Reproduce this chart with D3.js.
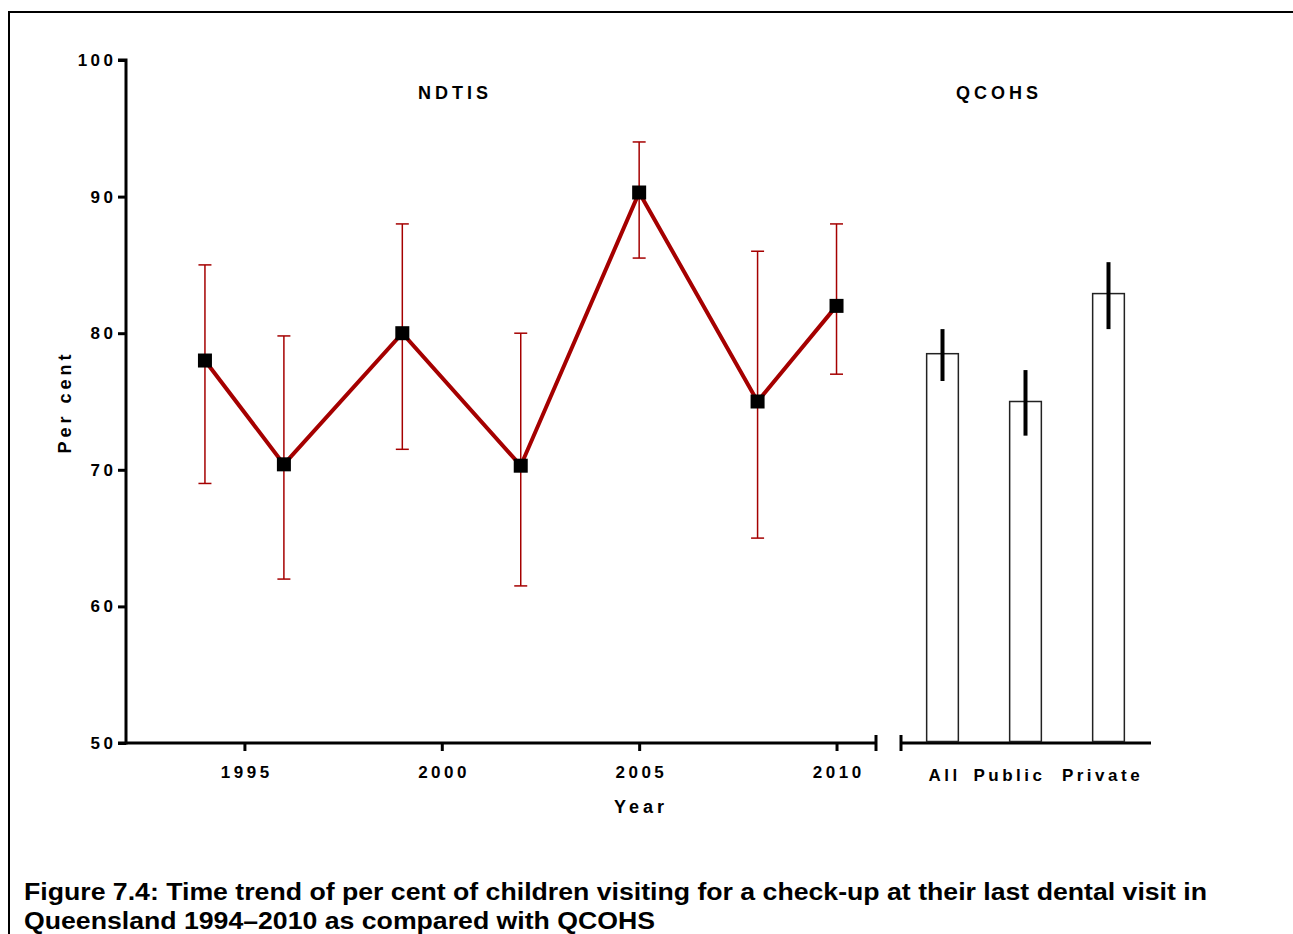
<!DOCTYPE html>
<html>
<head>
<meta charset="utf-8">
<script src="https://cdn.jsdelivr.net/npm/d3@7"></script>
<style>
html,body{margin:0;padding:0;background:#fff;}
svg{display:block;}
text{font-family:"Liberation Sans",Arial,sans-serif;font-weight:bold;fill:#000;}
</style>
</head>
<body>
<svg id="chart" width="1293" height="934"></svg>
<script>
// ---- data ----
const years = [1994, 1996, 1999, 2002, 2005, 2008, 2010];
const ndtisValues = [78, 70.4, 80, 70.3, 90.3, 75, 82];
const ndtisLower = [69, 62, 71.5, 61.5, 85.5, 65, 77];
const ndtisUpper = [85, 79.8, 88, 80, 94, 86, 88];
const yearTicks = [1995, 2000, 2005, 2010];
const yTicks = [50, 60, 70, 80, 90, 100];
const qcohsCategories = ["All", "Public", "Private"];
const qcohsValues = [78.5, 75.0, 82.9];
const qcohsLower = [76.5, 72.5, 80.3];
const qcohsUpper = [80.3, 77.3, 85.2];

const svg = d3.select("#chart");
const red = "#a50000";
const FONT = "Liberation Sans, Arial, sans-serif";

// frame
svg.append("path").attr("d", "M9,934 L9,12 L1293,12")
  .attr("fill", "none").attr("stroke", "#000").attr("stroke-width", 2);

// scales
const y = d3.scaleLinear().domain([50, 100]).range([743, 60]);
const x = d3.scaleLinear().domain([1992, 2011]).range([126, 876]);
const xb = d3.scaleBand().domain(qcohsCategories).range([901, 1150])
  .paddingInner(0.6).paddingOuter(0.3);

// y axis
const yAxis = svg.append("g").attr("transform", "translate(126,0)")
  .call(d3.axisLeft(y).tickValues(yTicks).tickSize(8).tickPadding(5));
yAxis.select(".domain").attr("stroke-width", 3).attr("d", "M-8,60H0V743H-8");
yAxis.selectAll(".tick line").attr("stroke-width", 3);
yAxis.selectAll(".tick text").attr("font-size", 17).attr("font-family", FONT)
  .attr("font-weight", "bold").attr("letter-spacing", 3.5).attr("dx", 3.5);

// x axis (year)
const xAxis = svg.append("g").attr("transform", "translate(0,743)")
  .call(d3.axisBottom(x).tickValues(yearTicks).tickFormat(d3.format("d")).tickSize(8).tickPadding(15));
xAxis.select(".domain").attr("stroke-width", 3).attr("d", "M126,0H876");
xAxis.selectAll(".tick text").attr("font-size", 17).attr("font-family", FONT)
  .attr("font-weight", "bold").attr("letter-spacing", 3.5).attr("dx", 1.75);
xAxis.selectAll(".tick line").attr("stroke-width", 3);
xAxis.append("line").attr("x1", 876).attr("x2", 876).attr("y1", -8).attr("y2", 8)
  .attr("stroke", "#000").attr("stroke-width", 3);

// category axis
const bAxis = svg.append("g").attr("transform", "translate(0,743)")
  .call(d3.axisBottom(xb).tickSize(0).tickPadding(26));
bAxis.select(".domain").attr("stroke-width", 3).attr("d", "M901,0H1151");
bAxis.selectAll(".tick text").attr("font-size", 17).attr("font-family", FONT)
  .attr("font-weight", "bold").attr("letter-spacing", 3.5)
  .attr("dx", (d, i) => [2, -16, -6][i]);
bAxis.append("line").attr("x1", 901).attr("x2", 901).attr("y1", -8).attr("y2", 8)
  .attr("stroke", "#000").attr("stroke-width", 3);

// titles
svg.append("text").attr("x", 455).attr("y", 99).attr("text-anchor", "middle")
  .attr("font-size", 18).attr("letter-spacing", 4).text("NDTIS");
svg.append("text").attr("x", 999).attr("y", 99).attr("text-anchor", "middle")
  .attr("font-size", 18).attr("letter-spacing", 4).text("QCOHS");
svg.append("text").attr("x", 641).attr("y", 813).attr("text-anchor", "middle")
  .attr("font-size", 18).attr("letter-spacing", 4).text("Year");
svg.append("text").attr("transform", "translate(71,402) rotate(-90)").attr("text-anchor", "middle")
  .attr("font-size", 18).attr("letter-spacing", 4).text("Per cent");

// error bars NDTIS
const eg = svg.append("g");
years.forEach((yr, i) => {
  const cx = x(yr);
  eg.append("line").attr("x1", cx).attr("x2", cx).attr("y1", y(ndtisUpper[i])).attr("y2", y(ndtisLower[i]))
    .attr("stroke", red).attr("stroke-width", 1.5);
  [ndtisUpper[i], ndtisLower[i]].forEach(v => {
    eg.append("line").attr("x1", cx - 6.5).attr("x2", cx + 6.5).attr("y1", y(v)).attr("y2", y(v))
      .attr("stroke", red).attr("stroke-width", 1.5);
  });
});

// line
const line = d3.line().x((d, i) => x(years[i])).y(d => y(d));
svg.append("path").datum(ndtisValues).attr("d", line)
  .attr("fill", "none").attr("stroke", red).attr("stroke-width", 4).attr("stroke-linejoin", "miter");

// markers
svg.append("g").selectAll("rect").data(ndtisValues).join("rect")
  .attr("x", (d, i) => x(years[i]) - 7).attr("y", d => y(d) - 7)
  .attr("width", 14).attr("height", 14).attr("fill", "#000");

// bars
svg.append("g").selectAll("rect").data(qcohsValues).join("rect")
  .attr("x", (d, i) => xb(qcohsCategories[i]) + 0.75)
  .attr("y", d => y(d))
  .attr("width", xb.bandwidth() - 1.5)
  .attr("height", d => y(50) - y(d) - 1.5)
  .attr("fill", "#fff").attr("stroke", "#222").attr("stroke-width", 1.5);

// bar error bars
svg.append("g").selectAll("line").data(qcohsValues).join("line")
  .attr("x1", (d, i) => xb(qcohsCategories[i]) + xb.bandwidth() / 2)
  .attr("x2", (d, i) => xb(qcohsCategories[i]) + xb.bandwidth() / 2)
  .attr("y1", (d, i) => y(qcohsUpper[i]))
  .attr("y2", (d, i) => y(qcohsLower[i]))
  .attr("stroke", "#000").attr("stroke-width", 4);

// caption
svg.append("text").attr("x", 24).attr("y", 900).attr("font-size", 23)
  .attr("textLength", 1183).attr("lengthAdjust", "spacingAndGlyphs")
  .text("Figure 7.4: Time trend of per cent of children visiting for a check-up at their last dental visit in");
svg.append("text").attr("x", 24).attr("y", 929).attr("font-size", 23)
  .attr("textLength", 631).attr("lengthAdjust", "spacingAndGlyphs")
  .text("Queensland 1994\u20132010 as compared with QCOHS");
</script>
</body>
</html>
